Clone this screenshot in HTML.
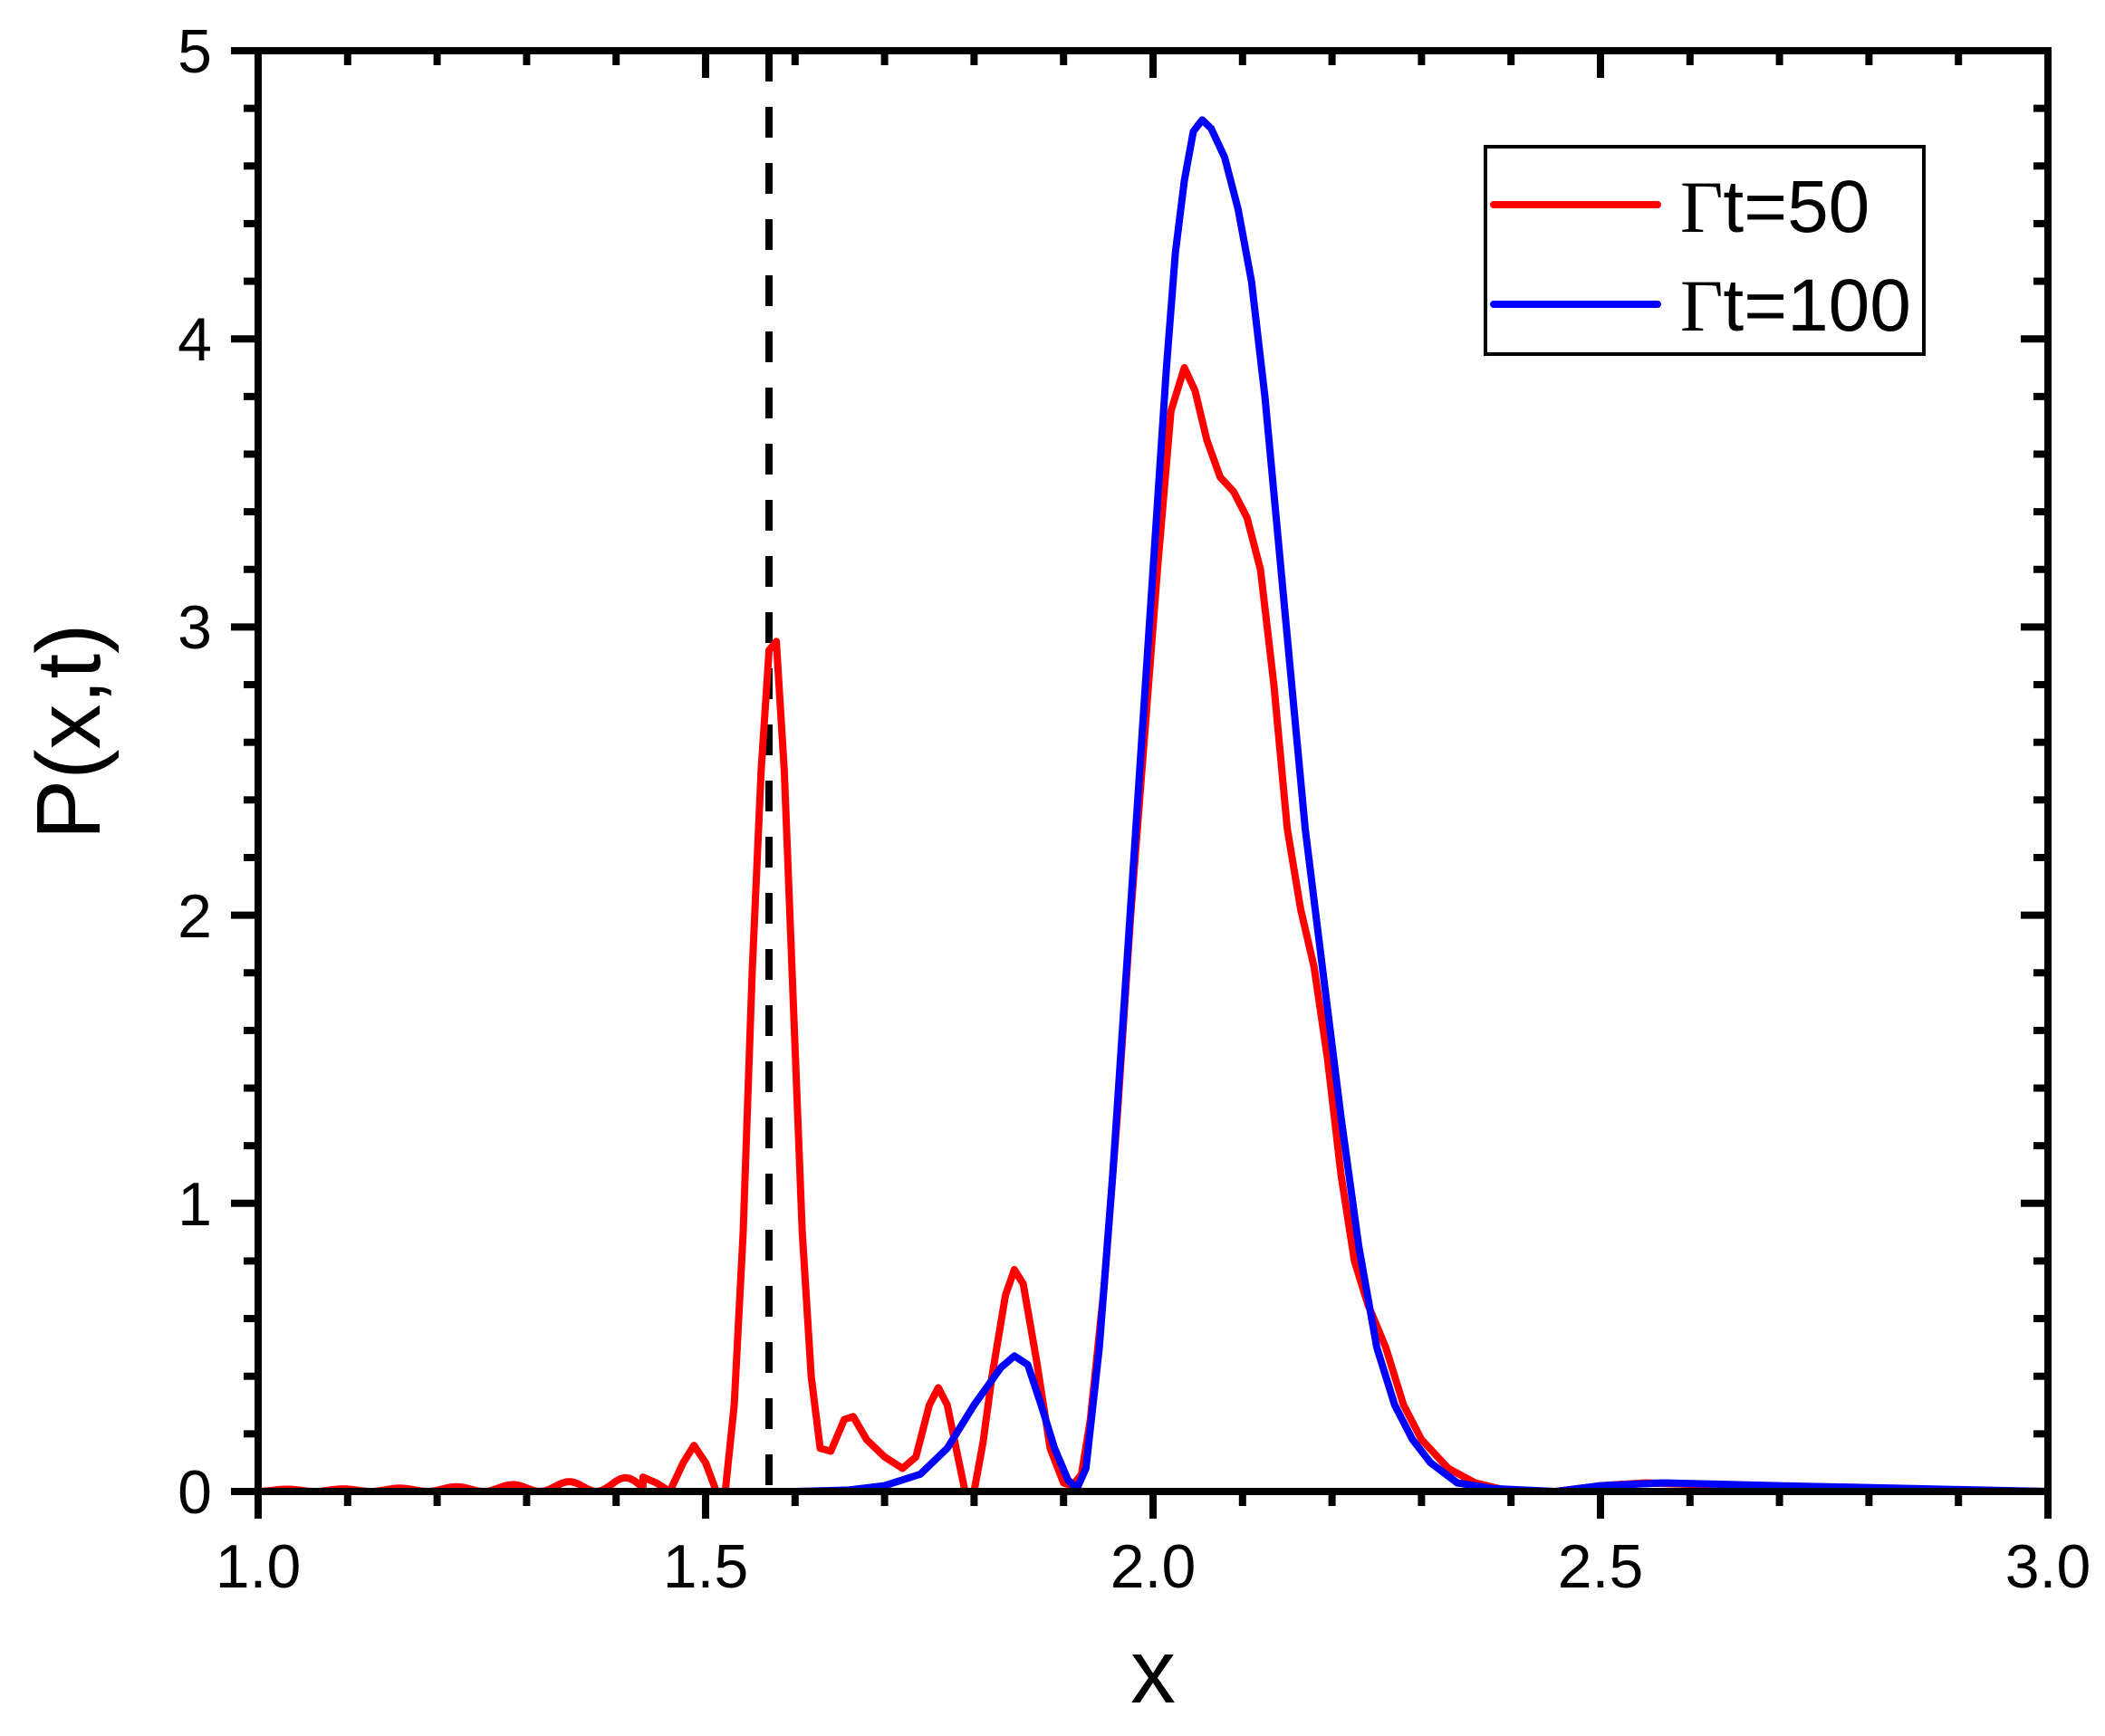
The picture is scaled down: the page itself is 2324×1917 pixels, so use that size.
<!DOCTYPE html>
<html><head><meta charset="utf-8"><style>
html,body{margin:0;padding:0;background:#fff;}
svg{display:block;}
text{font-family:"Liberation Sans",sans-serif;fill:#000;}
</style></head><body>
<svg id="s" width="2324" height="1917" viewBox="0 0 2324 1917" xmlns="http://www.w3.org/2000/svg">
<g id="ticks" stroke="#000" stroke-width="8"></g>
<line x1="849" y1="56" x2="849" y2="1647" stroke="#000" stroke-width="8" stroke-dasharray="34,28"/>
<polyline id="red" fill="none" stroke="#ff0000" stroke-width="8" stroke-linejoin="round"/>
<polyline id="blue" fill="none" stroke="#0000ff" stroke-width="8" stroke-linejoin="round"/>
<rect x="285" y="56" width="1976" height="1591" fill="none" stroke="#000" stroke-width="8"/>
<g font-size="68" text-anchor="end">
<text x="234" y="1671">0</text><text x="234" y="1353">1</text><text x="234" y="1035">2</text>
<text x="234" y="716">3</text><text x="234" y="398">4</text><text x="234" y="80">5</text>
</g>
<g font-size="68" text-anchor="middle">
<text x="285" y="1753">1.0</text><text x="779" y="1753">1.5</text><text x="1273" y="1753">2.0</text>
<text x="1767" y="1753">2.5</text><text x="2261" y="1753">3.0</text>
</g>
<text x="1273" y="1880" font-size="100" text-anchor="middle">x</text>
<text transform="translate(110,808) rotate(-90)" font-size="100" text-anchor="middle">P(x,t)</text>
<rect x="1640" y="162" width="484" height="229" fill="#fff" stroke="#000" stroke-width="4"/>
<line x1="1649" y1="226" x2="1830" y2="226" stroke="#ff0000" stroke-width="8" stroke-linecap="round"/>
<line x1="1649" y1="336" x2="1830" y2="336" stroke="#0000ff" stroke-width="8" stroke-linecap="round"/>
<text x="1855" y="256" font-size="82"><tspan font-family="Liberation Serif">Γ</tspan>t=50</text>
<text x="1855" y="365" font-size="82"><tspan font-family="Liberation Serif">Γ</tspan>t=100</text>
</svg>
<script>
var X=function(x){return 285+(x-1)*988;},Y=function(y){return 1647-y*318.2;};
var t=document.getElementById('ticks'),h='';
for(var i=0;i<=20;i++){var x=X(1+i*0.1),maj=i%5==0;
h+='<line x1="'+x+'" y1="1647" x2="'+x+'" y2="'+(1647+(maj?30:16))+'"/>';
h+='<line x1="'+x+'" y1="56" x2="'+x+'" y2="'+(56+(maj?30:16))+'"/>';}
for(var i=0;i<=25;i++){var y=Y(i*0.2),maj=i%5==0;
h+='<line x1="285" y1="'+y+'" x2="'+(285-(maj?30:16))+'" y2="'+y+'"/>';
h+='<line x1="2261" y1="'+y+'" x2="'+(2261-(maj?30:16))+'" y2="'+y+'"/>';}
t.innerHTML=h;
var red=[];
for(var x=1.0;x<1.43;x+=0.005){var a=0.008+0.045*Math.pow((x-1)/0.43,2.5);red.push([x,a*Math.pow(Math.sin((x-1)/0.063*Math.PI),2)]);}
red=red.concat([[1.43,0.05],[1.445,0.03],[1.46,0.0],[1.475,0.1],[1.487,0.16],[1.50,0.1],[1.512,0.0],[1.522,0.0],[1.532,0.3],[1.542,0.9],[1.552,1.8],[1.562,2.5],[1.571,2.92],[1.579,2.95],[1.588,2.5],[1.598,1.7],[1.608,0.9],[1.618,0.4],[1.628,0.15],[1.64,0.14],[1.655,0.25],[1.665,0.26],[1.68,0.18],[1.70,0.12],[1.72,0.08],[1.735,0.12],[1.75,0.3],[1.76,0.36],[1.77,0.3],[1.78,0.15],[1.79,0.0],[1.80,0.0],[1.81,0.17],[1.82,0.4],[1.835,0.68],[1.845,0.77],[1.855,0.72],[1.87,0.45],[1.885,0.15],[1.90,0.03],[1.91,0.02],[1.92,0.06],[1.93,0.25],[1.945,0.7],[1.96,1.3],[1.975,2.0],[1.99,2.6],[2.005,3.2],[2.02,3.75],[2.035,3.9],[2.047,3.82],[2.06,3.65],[2.075,3.52],[2.09,3.47],[2.105,3.38],[2.12,3.2],[2.135,2.8],[2.15,2.3],[2.165,2.02],[2.18,1.82],[2.195,1.5],[2.21,1.1],[2.225,0.8],[2.24,0.65],[2.26,0.5],[2.28,0.3],[2.30,0.18],[2.33,0.08],[2.36,0.03],[2.40,0.0],[2.45,0.0],[2.50,0.02],[2.55,0.03],[2.65,0.02],[2.8,0.01],[3.0,0.0]]);
var blue=[[1.0,0],[1.6,0],[1.66,0.005],[1.7,0.02],[1.74,0.06],[1.77,0.15],[1.80,0.3],[1.83,0.43],[1.845,0.47],[1.86,0.44],[1.875,0.3],[1.89,0.15],[1.905,0.04],[1.915,0.01],[1.925,0.08],[1.94,0.5],[1.955,1.1],[1.97,1.8],[1.985,2.5],[2.0,3.2],[2.015,3.9],[2.025,4.3],[2.035,4.55],[2.045,4.72],[2.055,4.76],[2.065,4.73],[2.08,4.63],[2.095,4.45],[2.11,4.2],[2.125,3.8],[2.14,3.3],[2.155,2.8],[2.17,2.3],[2.19,1.8],[2.21,1.3],[2.23,0.85],[2.25,0.5],[2.27,0.3],[2.29,0.18],[2.31,0.1],[2.34,0.03],[2.38,0.01],[2.45,0.0],[2.5,0.02],[2.57,0.03],[2.7,0.02],[2.85,0.01],[3.0,0.0]];
function pts(a){return a.map(function(p){return X(p[0]).toFixed(1)+','+Y(p[1]).toFixed(1);}).join(' ');}
document.getElementById('red').setAttribute('points',pts(red));
document.getElementById('blue').setAttribute('points',pts(blue));
</script>
</body></html>
